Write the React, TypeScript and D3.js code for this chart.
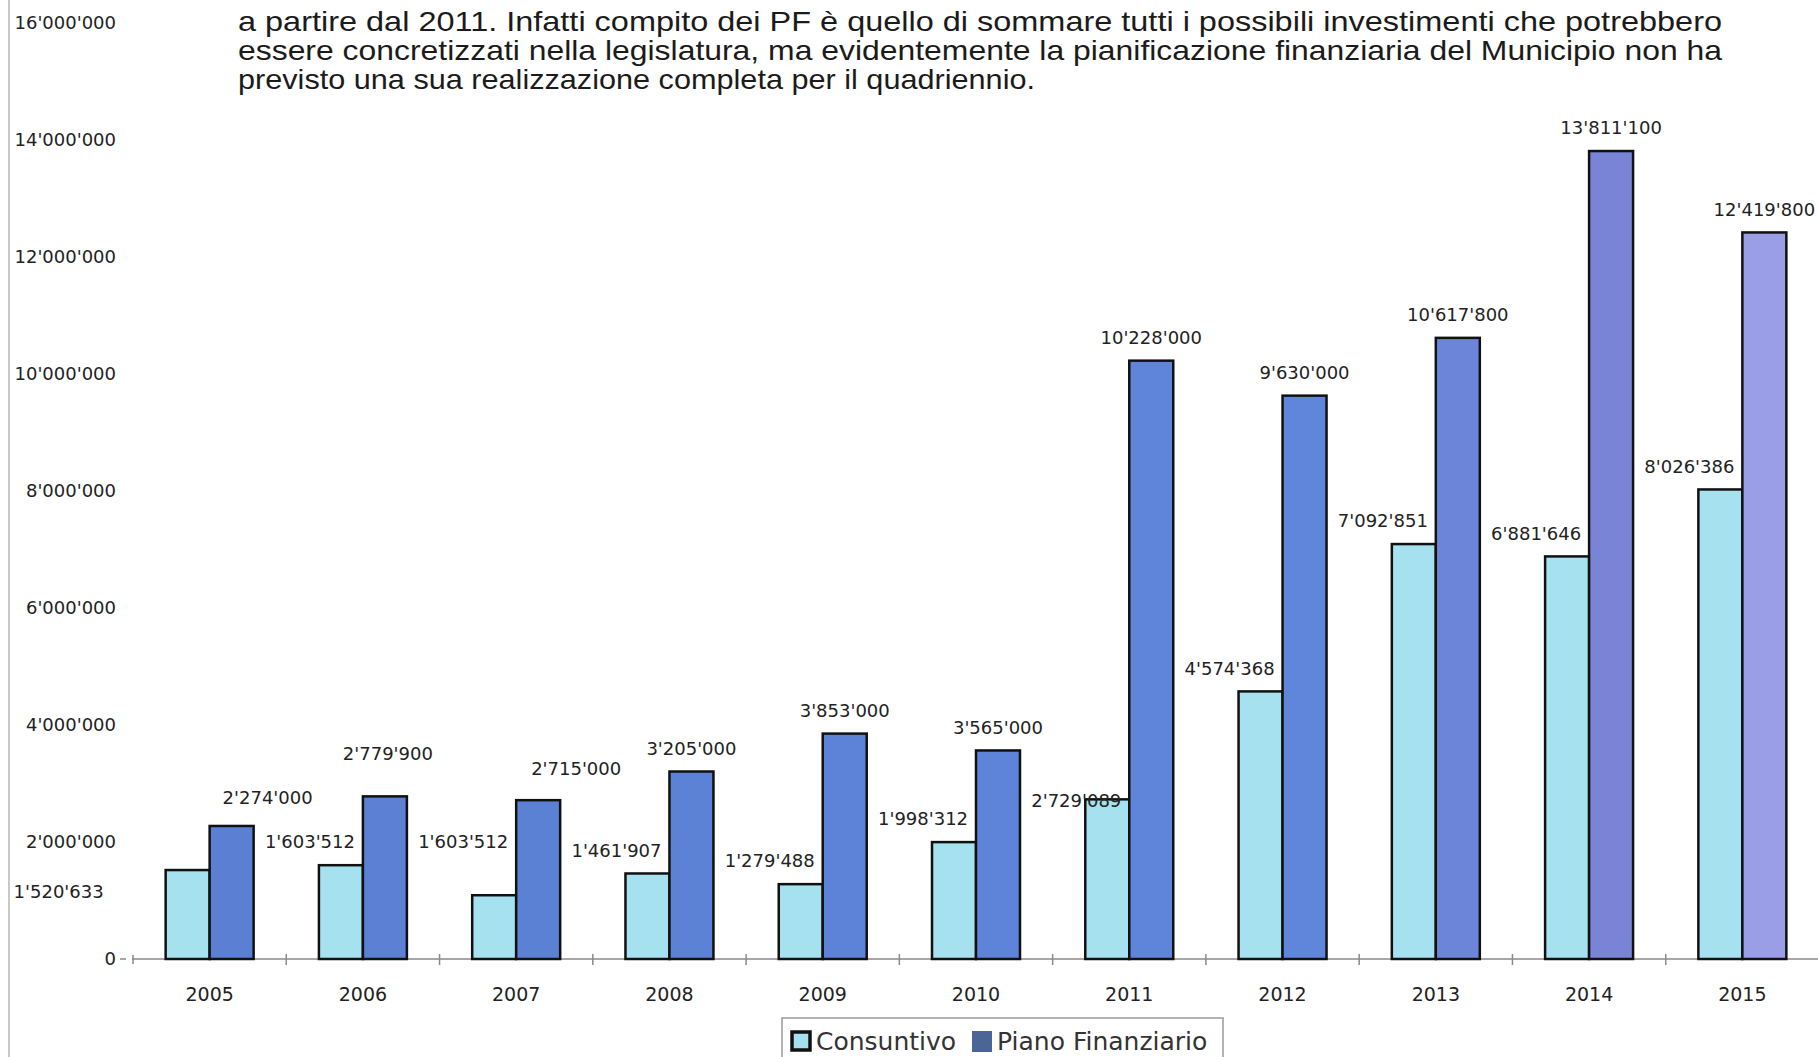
import React from 'react'
import * as d3 from 'd3'

const years = ['2005', '2006', '2007', '2008', '2009', '2010', '2011', '2012', '2013', '2014', '2015']
// bar heights (2007 bar is lower than its printed label)
const consuntivo = [1520633, 1603512, 1090000, 1461907, 1279488, 1998312, 2729089, 4574368, 7092851, 6881646, 8026386]
const consuntivoLabels = ["1'520'633", "1'603'512", "1'603'512", "1'461'907", "1'279'488", "1'998'312", "2'729'089", "4'574'368", "7'092'851", "6'881'646", "8'026'386"]
const pianoFinanziario = [2274000, 2779900, 2715000, 3205000, 3853000, 3565000, 10228000, 9630000, 10617800, 13811100, 12419800]
const yTicks = [0, 2000000, 4000000, 6000000, 8000000, 10000000, 12000000, 14000000, 16000000]
const seriesNames = ['Consuntivo', 'Piano Finanziario']
const paragraph = [
  'a partire dal 2011. Infatti compito dei PF è quello di sommare tutti i possibili investimenti che potrebbero',
  'essere concretizzati nella legislatura, ma evidentemente la pianificazione finanziaria del Municipio non ha',
  'previsto una sua realizzazione completa per il quadriennio.'
]

const W = 1818
const H = 1057
const font = '"DejaVu Sans", sans-serif'

// small hand placements of the data labels, as in the original layout
const consNudge: Record<string, [number, number]> = { '2005': [-98, 45], '2011': [0, 24] }
const pianoNudge: Record<string, [number, number]> = { '2005': [36, -5], '2006': [3, -20], '2007': [38, -8] }

const fmt = (v: number) => d3.format(',')(v).replace(/,/g, "'")

function drawChart(svgRef: React.RefObject<SVGSVGElement>) {
  const svg = d3.select(svgRef.current)
  svg.selectAll('*').remove()

  svg.append('rect').attr('width', W).attr('height', H).attr('fill', '#fff')
  // scanned page edge
  svg.append('line')
    .attr('x1', 9).attr('x2', 9).attr('y1', 0).attr('y2', H)
    .attr('stroke', '#c8c8c8').attr('stroke-width', 2)

  // paragraph above the chart
  const lineWidths = [1484, 1484, 797]
  svg.append('g')
    .selectAll('text')
    .data(paragraph)
    .join('text')
      .attr('x', 238)
      .attr('y', (_, i) => 31 + i * 29)
      .attr('font-family', '"Liberation Sans Narrow", "Liberation Sans", Arial, sans-serif')
      .attr('font-size', 28)
      .attr('fill', '#1b1b1b')
      .attr('textLength', (_, i) => lineWidths[i])
      .attr('lengthAdjust', 'spacingAndGlyphs')
      .text(d => d)

  const x0 = d3.scaleBand<string>()
    .domain(years)
    .range([133, 1819])
    .paddingInner(0.426)
    .paddingOuter(0.213)
  const x1 = d3.scaleBand<string>()
    .domain(seriesNames)
    .range([0, x0.bandwidth()])
  const y = d3.scaleLinear().domain([0, 16000000]).range([959, 23])
  const step = x0.step()

  const pianoColor = d3.scaleLinear<string>()
    .domain([0, 7, 9, 10])
    .range(['#5a7fd3', '#5f86db', '#7a84d6', '#9a9ee6'])

  // y tick labels
  svg.append('g')
    .selectAll('text')
    .data(yTicks)
    .join('text')
      .attr('x', 116)
      .attr('y', d => y(d))
      .attr('dy', '0.35em')
      .attr('text-anchor', 'end')
      .attr('font-family', font)
      .attr('font-size', 18)
      .attr('fill', '#222')
      .text(d => fmt(d))

  // x axis
  const axis = svg.append('g').attr('stroke', '#8a8a8a').attr('stroke-width', 1.5)
  axis.append('line').attr('x1', 132).attr('x2', W).attr('y1', y(0)).attr('y2', y(0))
  axis.append('line').attr('x1', 120).attr('x2', 126).attr('y1', y(0)).attr('y2', y(0))
  axis.append('line').attr('x1', 133).attr('x2', 133).attr('y1', y(0) - 4).attr('y2', y(0) + 5)
  axis.selectAll('line.tick')
    .data(years.slice(1))
    .join('line')
      .attr('class', 'tick')
      .attr('x1', d => (x0(d) as number) - step * 0.213)
      .attr('x2', d => (x0(d) as number) - step * 0.213)
      .attr('y1', y(0) - 5)
      .attr('y2', y(0) + 6)

  svg.append('g')
    .selectAll('text')
    .data(years)
    .join('text')
      .attr('x', d => (x0(d) as number) + x0.bandwidth() / 2)
      .attr('y', 1001)
      .attr('text-anchor', 'middle')
      .attr('font-family', font)
      .attr('font-size', 19)
      .attr('fill', '#222')
      .text(d => d)

  // bars
  const groups = svg.append('g')
    .selectAll('g')
    .data(years)
    .join('g')
      .attr('transform', d => `translate(${x0(d)},0)`)

  groups.append('rect')
    .attr('x', x1('Consuntivo') as number)
    .attr('y', (_, i) => y(consuntivo[i]))
    .attr('width', x1.bandwidth())
    .attr('height', (_, i) => y(0) - y(consuntivo[i]))
    .attr('fill', '#a6e1ef')
    .attr('stroke', '#111')
    .attr('stroke-width', 2.5)

  groups.append('rect')
    .attr('x', x1('Piano Finanziario') as number)
    .attr('y', (_, i) => y(pianoFinanziario[i]))
    .attr('width', x1.bandwidth())
    .attr('height', (_, i) => y(0) - y(pianoFinanziario[i]))
    .attr('fill', (_, i) => pianoColor(i))
    .attr('stroke', '#111')
    .attr('stroke-width', 2.5)

  // data labels
  groups.append('text')
    .attr('x', d => (x1('Consuntivo') as number) - 9 + (consNudge[d]?.[0] ?? 0))
    .attr('y', (d, i) => y(+consuntivoLabels[i].replace(/'/g, '')) - 23 + (consNudge[d]?.[1] ?? 0))
    .attr('dy', '0.35em')
    .attr('text-anchor', 'middle')
    .attr('font-family', font)
    .attr('font-size', 18)
    .attr('fill', '#222')
    .text((_, i) => consuntivoLabels[i])

  groups.append('text')
    .attr('x', d => (x1('Piano Finanziario') as number) + x1.bandwidth() / 2 + (pianoNudge[d]?.[0] ?? 0))
    .attr('y', (d, i) => y(pianoFinanziario[i]) - 23 + (pianoNudge[d]?.[1] ?? 0))
    .attr('dy', '0.35em')
    .attr('text-anchor', 'middle')
    .attr('font-family', font)
    .attr('font-size', 18)
    .attr('fill', '#222')
    .text((_, i) => fmt(pianoFinanziario[i]))

  // legend
  const legend = svg.append('g')
  legend.append('rect')
    .attr('x', 782).attr('y', 1018).attr('width', 441).attr('height', 60)
    .attr('fill', '#fff').attr('stroke', '#9a9a9a').attr('stroke-width', 1.5)
  legend.append('rect')
    .attr('x', 792).attr('y', 1032).attr('width', 18).attr('height', 18)
    .attr('fill', '#a6e1ef').attr('stroke', '#111').attr('stroke-width', 3.5)
  legend.append('rect')
    .attr('x', 972).attr('y', 1031).attr('width', 20).attr('height', 21)
    .attr('fill', '#4b6597')
  legend.selectAll('text.lg')
    .data(seriesNames)
    .join('text')
      .attr('class', 'lg')
      .attr('x', (_, i) => (i === 0 ? 816 : 997))
      .attr('y', 1050)
      .attr('font-family', font)
      .attr('font-size', 25)
      .attr('fill', '#333')
      .text(d => d)
}

const App: React.FunctionComponent = () => {
  const svg = React.useRef<SVGSVGElement>(null)

  React.useEffect(() => {
    drawChart(svg)
  }, [svg])

  return (
    <svg
      ref={svg}
      width={W}
      height={H}
      style={{ position: 'absolute', left: 0, top: 0, display: 'block' }}
    />
  )
}

export default App
